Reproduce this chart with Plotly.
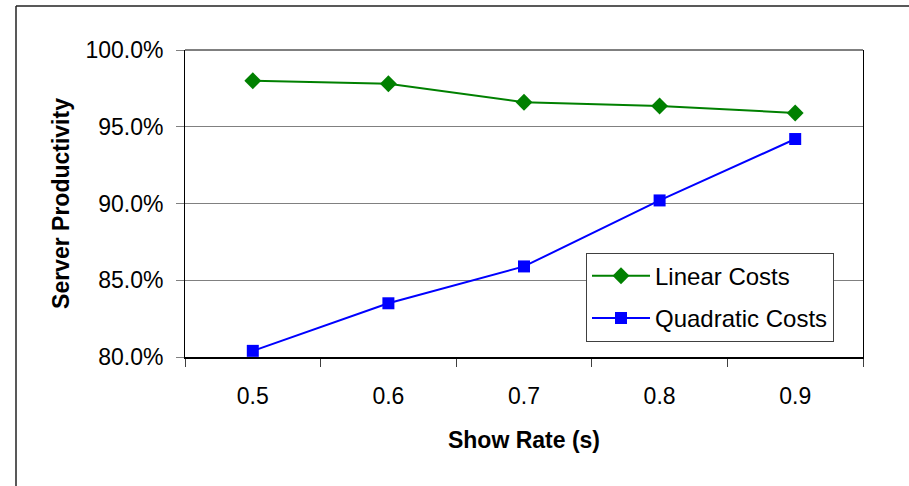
import plotly.graph_objects as go

# Show rate categories and server productivity for each cost model
show_rate = ["0.5", "0.6", "0.7", "0.8", "0.9"]
linear_costs = [0.980, 0.978, 0.966, 0.9635, 0.959]
quadratic_costs = [0.804, 0.835, 0.859, 0.902, 0.942]

FONT = "Liberation Sans, Arial, sans-serif"
W, H = 909, 486
L, R, T, B = 185, 46, 50, 128.5

fig = go.Figure()
fig.add_trace(go.Scatter(
    x=show_rate, y=linear_costs, name="Linear Costs", mode="lines+markers",
    legendgroup="a",
    line=dict(color="#008000", width=2),
    marker=dict(symbol="diamond", size=13, color="#008000"),
))
fig.add_trace(go.Scatter(
    x=show_rate, y=quadratic_costs, name="Quadratic Costs", mode="lines+markers",
    legendgroup="b",
    line=dict(color="#0000FF", width=2),
    marker=dict(symbol="square", size=12, color="#0000FF"),
))

pw = W - L - R
ph = H - T - B
def px_x(p):
    return (p - L) / pw
def px_y(p):
    return (H - B - p) / ph

shapes = [
    # outer chart frame (left and top edges)
    dict(type="line", xref="paper", yref="paper", x0=px_x(16), x1=px_x(16),
         y0=px_y(490), y1=px_y(6), line=dict(color="#222222", width=1.5)),
    dict(type="line", xref="paper", yref="paper", x0=px_x(16), x1=px_x(912),
         y0=px_y(6), y1=px_y(6), line=dict(color="#222222", width=1.5)),
    # top edge of plot area
    dict(type="line", xref="paper", yref="paper", x0=0, x1=1, y0=1, y1=1,
         line=dict(color="black", width=1)),
]

fig.update_layout(
    width=W, height=H,
    margin=dict(l=L, r=R, t=T, b=B, autoexpand=False),
    paper_bgcolor="white", plot_bgcolor="white",
    font=dict(family=FONT, size=23, color="black"),
    showlegend=True,
    legend=dict(
        x=px_x(586), y=px_y(253), xanchor="left", yanchor="top",
        bgcolor="white", bordercolor="#404040", borderwidth=1,
        font=dict(family=FONT, size=24, color="black"),
        traceorder="grouped", tracegroupgap=8, itemwidth=58,
    ),
    shapes=shapes,
)

fig.update_xaxes(
    type="category", range=[-0.5, 4.5],
    showline=True, linecolor="black", linewidth=2,
    ticks="outside", tickson="boundaries", ticklen=8, tickcolor="#404040", tickwidth=1,
    showgrid=False, tickfont=dict(family=FONT, size=23, color="black"),
    ticklabelstandoff=17,
    title=dict(text="<b>Show Rate (s)</b>", font=dict(family=FONT, size=23), standoff=24),
    automargin=False,
)
fig.update_yaxes(
    range=[0.8, 1.0], dtick=0.05, tick0=0.8, tickformat=".1%",
    showline=True, linecolor="black", linewidth=1, mirror=True,
    ticks="outside", ticklen=8, tickcolor="#808080", tickwidth=1,
    showgrid=True, gridcolor="#808080", gridwidth=1, zeroline=False,
    tickfont=dict(family=FONT, size=23, color="black"),
    ticklabelstandoff=8,
    title=dict(text="<b>Server Productivity</b>", font=dict(family=FONT, size=23), standoff=9),
    automargin=False,
)

fig.write_html("out.html")
